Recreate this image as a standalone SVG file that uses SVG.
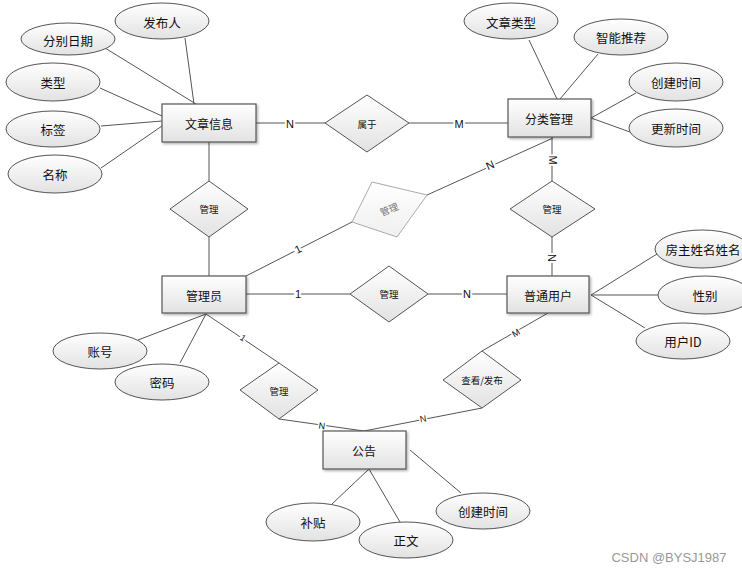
<svg xmlns="http://www.w3.org/2000/svg" width="742" height="572" viewBox="0 0 742 572">
<defs>
<linearGradient id="g" x1="0" y1="0" x2="0" y2="1"><stop offset="0" stop-color="#ffffff"/><stop offset="1" stop-color="#e2e2e2"/></linearGradient>
<linearGradient id="gf" x1="0" y1="0" x2="0" y2="1"><stop offset="0" stop-color="#ffffff"/><stop offset="1" stop-color="#efefef"/></linearGradient>
<filter id="sh" x="-20%" y="-20%" width="140%" height="150%"><feDropShadow dx="1.5" dy="1.5" stdDeviation="1" flood-color="#000" flood-opacity="0.3"/></filter>
<style>
.ent{fill:url(#g);stroke:#555;stroke-width:1.2;filter:url(#sh)}
.att{fill:url(#g);stroke:#555;stroke-width:1}
.rel{fill:url(#g);stroke:#555;stroke-width:1}
.faded{fill:url(#gf);stroke:#aaa;stroke-width:1}
.ln{stroke:#555;stroke-width:1;fill:none}
text{font-family:"Noto Sans CJK SC","Liberation Sans",sans-serif;fill:#111;text-anchor:middle;dominant-baseline:central}
.t{font-size:12px}
.ta{font-size:12.5px}
.tr{font-size:9.5px}
.c{font-family:"Liberation Sans",sans-serif;font-size:11px;stroke:#fff;stroke-width:4px;paint-order:stroke}
.cs{font-family:"Liberation Sans",sans-serif;font-size:9px;stroke:#fff;stroke-width:3px;paint-order:stroke}
</style>
</defs>
<rect width="742" height="572" fill="#fff"/>
<g id="connectors">
<line class="ln" x1="185" y1="38" x2="194" y2="104"/>
<line class="ln" x1="105" y1="48" x2="196" y2="104"/>
<line class="ln" x1="100" y1="88" x2="162" y2="116"/>
<line class="ln" x1="101" y1="126" x2="162" y2="121"/>
<line class="ln" x1="101" y1="168" x2="162" y2="126"/>
<line class="ln" x1="256" y1="123" x2="326" y2="123"/>
<line class="ln" x1="409" y1="123" x2="508" y2="123"/>
<line class="ln" x1="529" y1="40" x2="557" y2="99"/>
<line class="ln" x1="598" y1="54" x2="560" y2="99"/>
<line class="ln" x1="636" y1="93" x2="591" y2="118"/>
<line class="ln" x1="630" y1="132" x2="591" y2="118"/>
<line class="ln" x1="552" y1="137" x2="552" y2="181"/>
<line class="ln" x1="552" y1="237" x2="552" y2="276"/>
<line class="ln" x1="553" y1="138" x2="427" y2="195"/>
<line class="ln" x1="352" y1="222" x2="246" y2="276"/>
<line class="ln" x1="209" y1="142" x2="209" y2="181"/>
<line class="ln" x1="209" y1="237" x2="209" y2="276"/>
<line class="ln" x1="246" y1="294" x2="350" y2="294"/>
<line class="ln" x1="428" y1="294" x2="507" y2="294"/>
<line class="ln" x1="591" y1="295" x2="657" y2="254"/>
<line class="ln" x1="591" y1="295" x2="658" y2="295"/>
<line class="ln" x1="591" y1="295" x2="645" y2="328"/>
<line class="ln" x1="206" y1="314" x2="138" y2="340"/>
<line class="ln" x1="206" y1="314" x2="180" y2="363"/>
<line class="ln" x1="206" y1="314" x2="279" y2="363"/>
<line class="ln" x1="279" y1="419" x2="364" y2="431"/>
<line class="ln" x1="482" y1="351" x2="548" y2="313"/>
<line class="ln" x1="482" y1="408" x2="364" y2="431"/>
<line class="ln" x1="369" y1="469" x2="332" y2="504"/>
<line class="ln" x1="369" y1="469" x2="400" y2="522"/>
<line class="ln" x1="410" y1="450" x2="461" y2="493"/>
<text class="c" x="290" y="124">N</text>
<text class="c" x="459" y="124">M</text>
<text class="c" x="553" y="160" transform="rotate(90 553 160)">M</text>
<text class="c" x="552" y="258" transform="rotate(90 552 258)">N</text>
<text class="c" x="490" y="165" transform="rotate(-24 490 165)">N</text>
<text class="c" x="298" y="249" transform="rotate(-27 298 249)">1</text>
<text class="c" x="298" y="294">1</text>
<text class="c" x="467" y="294">N</text>
<text class="cs" x="243" y="338" transform="rotate(34 243 338)">1</text>
<text class="cs" x="322" y="426" transform="rotate(8 322 426)">N</text>
<text class="cs" x="516" y="333" transform="rotate(-30 516 333)">M</text>
<text class="cs" x="423" y="419" transform="rotate(-11 423 419)">N</text>
</g>
<g id="wenzhangxinxi"><rect class="ent" x="162" y="104" width="94" height="38"/><text class="t" x="209" y="123">文章信息</text></g>
<g id="fenleiguanli"><rect class="ent" x="508" y="99" width="83" height="38"/><text class="t" x="549" y="118">分类管理</text></g>
<g id="guanliyuan"><rect class="ent" x="162" y="276" width="84" height="37"/><text class="t" x="204" y="295">管理员</text></g>
<g id="putongyonghu"><rect class="ent" x="507" y="276" width="82" height="37"/><text class="t" x="548" y="295">普通用户</text></g>
<g id="gonggao"><rect class="ent" x="323" y="431" width="83" height="38"/><text class="t" x="364" y="450">公告</text></g>
<g id="fabuLren"><ellipse class="att" cx="162" cy="21" rx="47" ry="18"/><text class="ta" x="162" y="22">发布人</text></g>
<g id="fenbieriqi"><ellipse class="att" cx="68" cy="39" rx="47" ry="16"/><text class="ta" x="68" y="40">分别日期</text></g>
<g id="leixing"><ellipse class="att" cx="53" cy="82" rx="47" ry="19"/><text class="ta" x="53" y="82">类型</text></g>
<g id="biaoqian"><ellipse class="att" cx="53" cy="129" rx="47" ry="18"/><text class="ta" x="53" y="129">标签</text></g>
<g id="mingcheng"><ellipse class="att" cx="55" cy="174" rx="47" ry="19"/><text class="ta" x="55" y="174">名称</text></g>
<g id="wenzhangleixing"><ellipse class="att" cx="511" cy="21" rx="47" ry="18"/><text class="ta" x="511" y="22">文章类型</text></g>
<g id="zhinengtuijian"><ellipse class="att" cx="621" cy="37" rx="47" ry="18"/><text class="ta" x="621" y="37">智能推荐</text></g>
<g id="chuangjianshijian1"><ellipse class="att" cx="676" cy="82" rx="47" ry="19"/><text class="ta" x="676" y="82">创建时间</text></g>
<g id="gengxinshijian"><ellipse class="att" cx="676" cy="128" rx="47" ry="19"/><text class="ta" x="676" y="128">更新时间</text></g>
<g id="fangzhuxingming"><ellipse class="att" cx="702" cy="249" rx="47" ry="19"/><text class="ta" x="703" y="249">房主姓名姓名</text></g>
<g id="xingbie"><ellipse class="att" cx="705" cy="295" rx="47" ry="19"/><text class="ta" x="705" y="295">性别</text></g>
<g id="yonghuid"><ellipse class="att" cx="683" cy="341" rx="47" ry="18"/><text class="ta" x="683" y="341">用户ID</text></g>
<g id="zhanghao"><ellipse class="att" cx="100" cy="351" rx="47" ry="18"/><text class="ta" x="100" y="351">账号</text></g>
<g id="mima"><ellipse class="att" cx="162" cy="382" rx="47" ry="18"/><text class="ta" x="162" y="382">密码</text></g>
<g id="butie"><ellipse class="att" cx="313" cy="522" rx="47" ry="19"/><text class="ta" x="313" y="522">补贴</text></g>
<g id="zhengwen"><ellipse class="att" cx="406" cy="540" rx="47" ry="18"/><text class="ta" x="406" y="540">正文</text></g>
<g id="chuangjianshijian2"><ellipse class="att" cx="483" cy="511" rx="47" ry="18"/><text class="ta" x="483" y="511">创建时间</text></g>
<g id="shuyu"><polygon class="rel" points="367,95 409,123 367,152 325,123"/><text class="tr" x="367" y="124">属于</text></g>
<g id="guanli1"><polygon class="rel" points="209,181 248,209 209,237 170,209"/><text class="tr" x="209" y="209">管理</text></g>
<g id="guanli2"><polygon class="rel" points="552,181 595,209 552,237 510,209"/><text class="tr" x="552" y="209">管理</text></g>
<g id="guanli3"><polygon class="faded" points="372,182 427,195 397,237 352,222"/><text class="tr" x="389" y="209" fill="#777" style="fill:#777" transform="rotate(-22 389 209)">管理</text></g>
<g id="guanli4"><polygon class="rel" points="389,266 428,294 389,322 350,294"/><text class="tr" x="389" y="294">管理</text></g>
<g id="guanli5"><polygon class="rel" points="279,363 318,390 279,419 240,390"/><text class="tr" x="279" y="391">管理</text></g>
<g id="chakanfabu"><polygon class="rel" points="482,351 521,380 482,408 443,380"/><text class="tr" x="482" y="380">查看/发布</text></g>
<text x="669" y="557" style="font-family:'Liberation Sans',sans-serif;font-size:13px;fill:#999">CSDN @BYSJ1987</text>
</svg>
